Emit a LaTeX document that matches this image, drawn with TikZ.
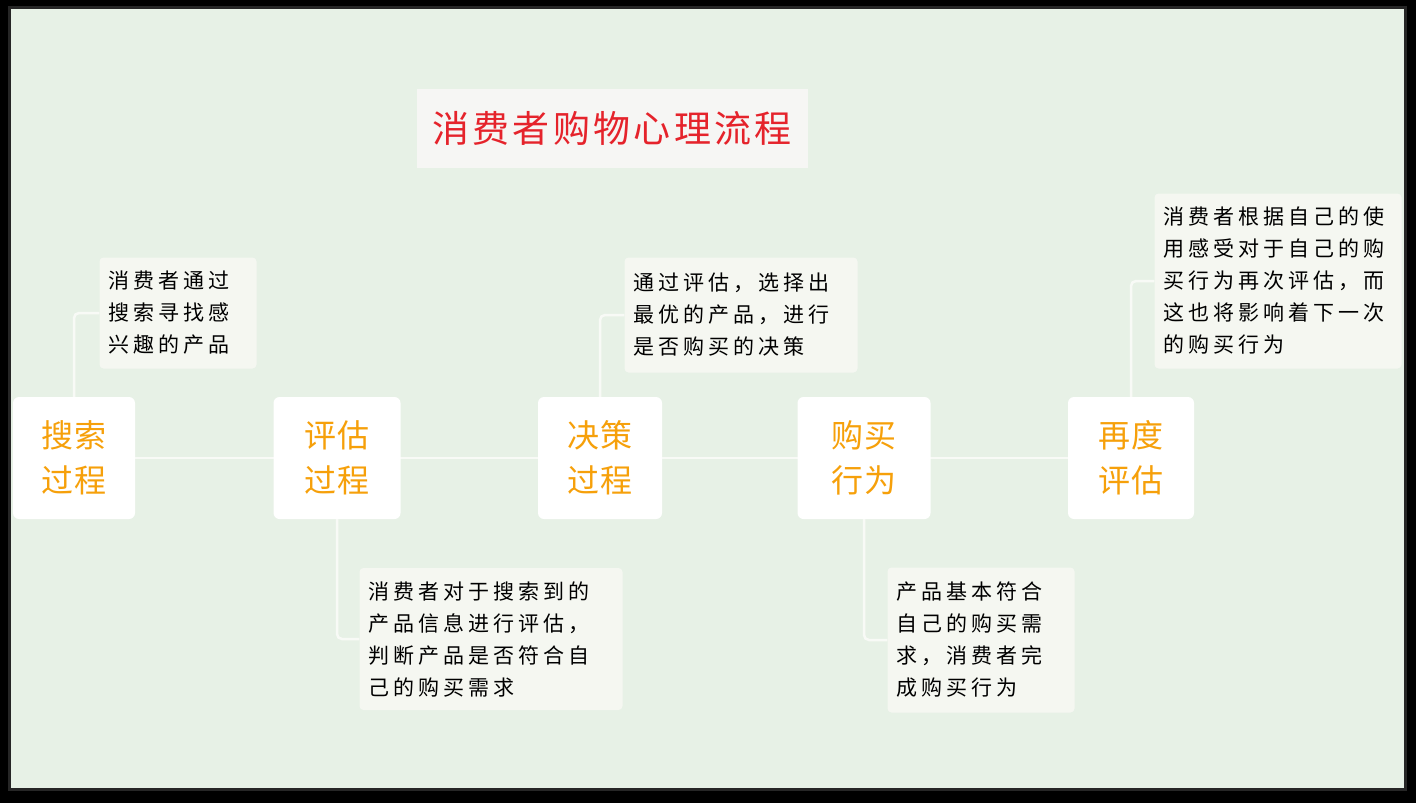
\documentclass[tikz,border=0pt]{standalone}
\usepackage{fontspec}
\newfontfamily\cjknote[LetterSpace=19]{Noto Sans CJK SC}
\newfontfamily\cjkstage[LetterSpace=3]{Noto Sans CJK SC}
\newfontfamily\cjktitle[LetterSpace=9]{Noto Sans CJK SC}
\definecolor{bggreen}{HTML}{E7F1E6}
\definecolor{notefill}{HTML}{F5F7F1}
\definecolor{titlefill}{HTML}{F6F6F4}
\definecolor{titlered}{HTML}{E5232B}
\definecolor{steporange}{HTML}{F6A00A}
\definecolor{linewhite}{HTML}{F8FAF6}

\tikzset{
    stage/.style={fill=white, rounded corners=6pt, inner sep=0pt,
        minimum height=122pt, text=steporange, align=center,
        font=\fontsize{32}{45}\selectfont\cjkstage},
    note/.style={fill=notefill, rounded corners=4pt, inner xsep=9pt, inner ysep=0pt,
        align=left, text=black, font=\fontsize{21}{32}\selectfont\cjknote},
    conn/.style={linewhite, line width=2.5pt, rounded corners=5pt}
}

\begin{document}
\begin{tikzpicture}[x=1pt, y=-1pt]
        \useasboundingbox (0,0) rectangle (1416,803);
        \fill[black] (0,0) rectangle (1416,803);
        \fill[black!85] (8,6) rectangle (1407,791);
        \fill[bggreen] (11,9) rectangle (1404,788);

        % title
        \node[fill=titlefill, minimum width=391pt, minimum height=79pt, inner sep=0pt,
            text=titlered, font=\fontsize{37}{40}\selectfont\cjktitle] (title) at (612,128) {消费者购物心理流程};

        % connectors (drawn first, boxes go on top)
        \coordinate (searchc) at (74,458);
        \coordinate (assessc) at (337,458);
        \coordinate (decidec) at (600,458);
        \coordinate (buyc) at (864,458);
        \coordinate (reassessc) at (1131,458);
        \draw[conn] (searchc) -- (reassessc);

        % stages
        \node[stage, minimum width=122pt] (search) at (searchc) {搜索\\过程};
        \node[stage, minimum width=127pt] (assess) at (assessc) {评估\\过程};
        \node[stage, minimum width=124pt] (decide) at (decidec) {决策\\过程};
        \node[stage, minimum width=133pt] (buy) at (buyc) {购买\\行为};
        \node[stage, minimum width=126pt] (reassess) at (reassessc) {再度\\评估};

        % notes
        \node[note, text width=139pt, minimum height=111pt] (searchnote) at (178,313)
            {消费者通过\\搜索寻找感\\兴趣的产品};
        \node[note, text width=245pt, minimum height=142pt] (assessnote) at (491,639)
            {消费者对于搜索到的\\产品信息进行评估，\\判断产品是否符合自\\己的购买需求};
        \node[note, text width=215pt, minimum height=115pt] (decidenote) at (741,315)
            {通过评估，选择出\\最优的产品，进行\\是否购买的决策};
        \node[note, text width=169pt, minimum height=145pt] (buynote) at (981,640)
            {产品基本符合\\自己的购买需\\求，消费者完\\成购买行为};
        \node[note, text width=229pt, minimum height=175pt] (reassessnote) at (1278,281)
            {消费者根据自己的使\\用感受对于自己的购\\买行为再次评估，而\\这也将影响着下一次\\的购买行为};

        \draw[conn] (search.north) |- (searchnote.west);
        \draw[conn] (assess.south) |- (assessnote.west);
        \draw[conn] (decide.north) |- (decidenote.west);
        \draw[conn] (buy.south) |- (buynote.west);
        \draw[conn] (reassess.north) |- (reassessnote.west);
    \end{tikzpicture}
\end{document}
